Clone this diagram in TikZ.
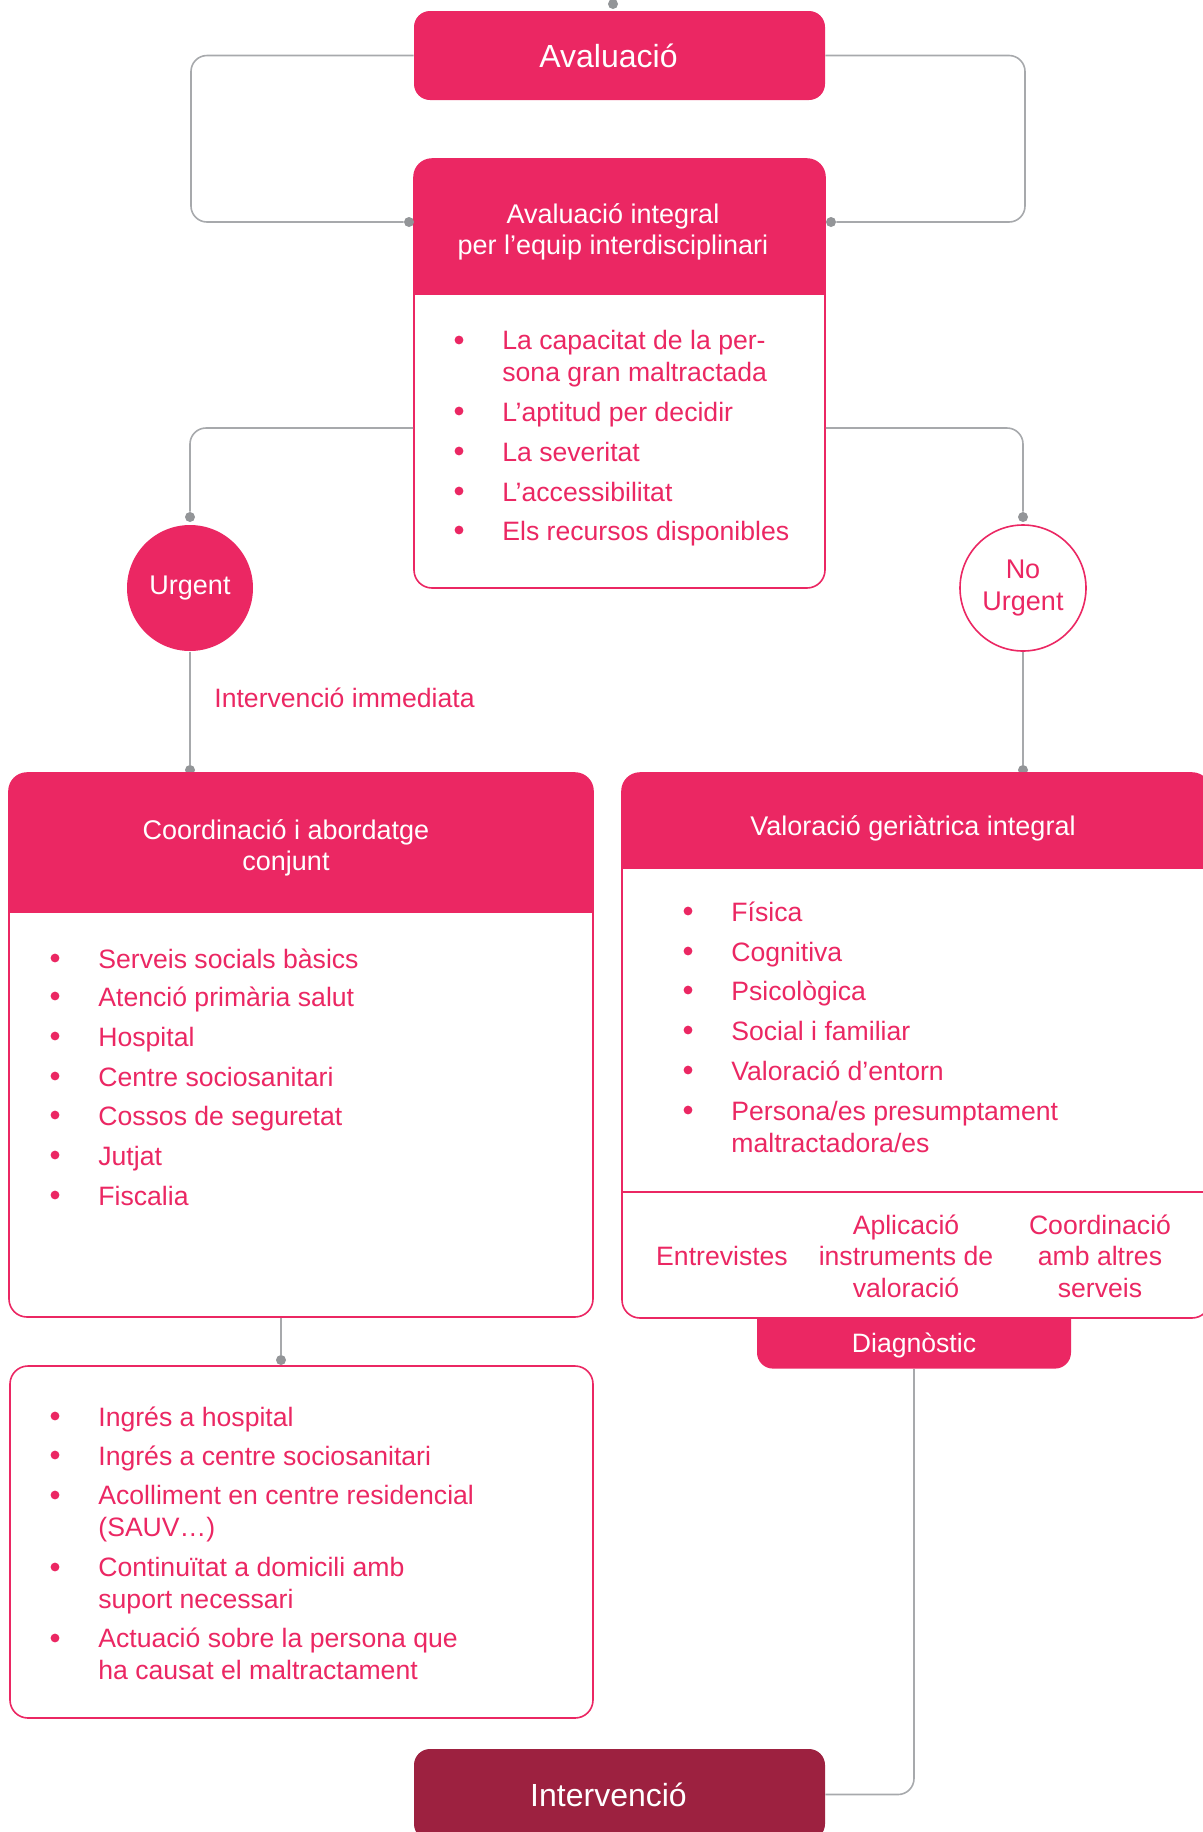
\documentclass[tikz,border=0pt]{standalone}
\usepackage{fontspec}
\setmainfont{Liberation Sans}

\definecolor{rosa}{HTML}{EB2763}
\definecolor{granat}{HTML}{9D2140}
\definecolor{linia}{HTML}{A7A9AC}
\definecolor{punt}{HTML}{939598}

\begin{document}
\begin{tikzpicture}[x=0.5pt, y=-0.5pt,
	link/.style={draw=linia, line width=0.8pt, rounded corners=8pt},
	dot/.style={circle, fill=punt, inner sep=0pt, minimum size=5pt},
	bigbox/.style={rounded corners=8pt, inner sep=0pt, text=white,
		font=\fontsize{16pt}{19pt}\selectfont},
	panel/.style={draw=rosa, line width=0.8pt, fill=white, rounded corners=9pt, inner sep=0pt,
		path picture={\fill[rosa, sharp corners] (path picture bounding box.north west)
			rectangle ([yshift=-#1]path picture bounding box.north east);}},
	head/.style={text=white, align=center, inner sep=0pt, yshift=-1.5pt,
		font=\fontsize{13.5pt}{15.75pt}\selectfont},
	body/.style={text=rosa, inner sep=0pt, font=\fontsize{13.3pt}{15.75pt}\selectfont},
	item/.style={body, align=left, anchor=base west, yshift=-1pt},
	bul/.style={circle, fill=rosa, inner sep=0pt, minimum size=4.4pt},
	roda/.style={circle, minimum size=63pt, inner sep=0pt, line width=0.8pt,
		font=\fontsize{13.5pt}{15.75pt}\selectfont}]

	\useasboundingbox (0,0) rectangle (1203,1832);
	\clip (0,0) rectangle (1203,1832);

	%% The first step
	\node[bigbox, fill=rosa, minimum width=205.5pt, minimum height=44.5pt] (avaluacio) at (619.5,55.5) {\hspace*{-11pt}Avaluació};
	\coordinate (entrada) at (613,-30);
	\node[dot] (d0) at (613,4) {};
	\draw[link] (entrada) -- (d0);

	%% The integral assessment
	%% (a text of two lines sits on the baseline of its last line)
	\node[panel=68pt, minimum width=205.5pt, minimum height=214.5pt] (integral) at (619.5,373.5) {};
	\node[head] (t-integral) at (613,229) {Avaluació integral\\per l’equip interdisciplinari};
	\node[bul] (b-int1) at (459,340) {};
	\node[item] (i-int1) at (502,379) {La capacitat de la per-\\sona gran maltractada};
	\node[bul] (b-int2) at (459,411) {};
	\node[item] (i-int2) at (502,419) {L’aptitud per decidir};
	\node[bul] (b-int3) at (459,451) {};
	\node[item] (i-int3) at (502,459) {La severitat};
	\node[bul] (b-int4) at (459,491) {};
	\node[item] (i-int4) at (502,499) {L’accessibilitat};
	\node[bul] (b-int5) at (459,530) {};
	\node[item] (i-int5) at (502,538) {Els recursos disponibles};

	%% Loop back to the first step
	\node[dot] (d1) at (409,222) {};
	\node[dot] (d2) at (831,222) {};
	\draw[link] (avaluacio.west) -| (191,222) -- (d1);
	\draw[link] (avaluacio.east) -| (1025,222) -- (d2);

	%% Urgent / not urgent
	\node[roda, fill=rosa, text=white] (urgent) at (190,588) {Urgent};
	\node[roda, fill=white, draw=rosa, text=rosa, align=center] (nourgent) at (1023,588) {No\\Urgent};
	\node[dot] (d3) at (190,517) {};
	\node[dot] (d4) at (1023,517) {};
	\draw[link] (integral.west |- 0,428) -| (d3);
	\draw[link] (integral.east |- 0,428) -| (d4);
	\node[dot] (d5) at (190,770) {};
	\node[dot] (d6) at (1023,770) {};
	\draw[link] (urgent) -- (d5);
	\draw[link] (nourgent) -- (d6);
	\node[item] (immediata) at (214,705) {Intervenció immediata};

	%% Coordination
	\node[panel=70pt, minimum width=292pt, minimum height=272pt] (coordinacio) at (301,1045) {};
	\node[head] (t-coord) at (286,845) {Coordinació i abordatge\\conjunt};
	\node[bul] (b-co1) at (55,958) {};
	\node[item] (i-co1) at (98,966) {Serveis socials bàsics};
	\node[bul] (b-co2) at (55,996) {};
	\node[item] (i-co2) at (98,1004) {Atenció primària salut};
	\node[bul] (b-co3) at (55,1036) {};
	\node[item] (i-co3) at (98,1044) {Hospital};
	\node[bul] (b-co4) at (55,1076) {};
	\node[item] (i-co4) at (98,1084) {Centre sociosanitari};
	\node[bul] (b-co5) at (55,1115) {};
	\node[item] (i-co5) at (98,1123) {Cossos de seguretat};
	\node[bul] (b-co6) at (55,1155) {};
	\node[item] (i-co6) at (98,1163) {Jutjat};
	\node[bul] (b-co7) at (55,1195) {};
	\node[item] (i-co7) at (98,1203) {Fiscalia};

	%% Measures
	\node[panel=0pt, minimum width=291.5pt, minimum height=176pt] (mesures) at (301.5,1542) {};
	\node[dot] (d7) at (281,1360) {};
	\draw[link] (coordinacio.south -| d7) -- (d7);
	\node[bul] (b-me1) at (55,1416) {};
	\node[item] (i-me1) at (98,1424) {Ingrés a hospital};
	\node[bul] (b-me2) at (55,1455) {};
	\node[item] (i-me2) at (98,1463) {Ingrés a centre sociosanitari};
	\node[bul] (b-me3) at (55,1495) {};
	\node[item] (i-me3) at (98,1534) {Acolliment en centre residencial\\(SAUV…)};
	\node[bul] (b-me4) at (55,1567) {};
	\node[item] (i-me4) at (98,1606) {Continuïtat a domicili amb\\suport necessari};
	\node[bul] (b-me5) at (55,1638) {};
	\node[item] (i-me5) at (98,1677) {Actuació sobre la persona que\\ha causat el maltractament};

	%% Geriatric assessment (the tab goes first, under the panel)
	\node[bigbox, fill=rosa, minimum width=157pt, text height=32pt, text depth=8pt, anchor=south,
		font=\fontsize{13.3pt}{15.75pt}\selectfont] (diagnostic) at (914,1369) {Diagnòstic};
	\node[panel=48pt, minimum width=294pt, minimum height=272.5pt] (valoracio) at (916,1045.5) {};
	\draw[rosa, line width=0.8pt] (valoracio.west |- 0,1192) -- (valoracio.east |- 0,1192);
	\node[head] (t-valor) at (913,825) {Valoració geriàtrica integral};
	\node[bul] (b-va1) at (688,911) {};
	\node[item] (i-va1) at (731,919) {Física};
	\node[bul] (b-va2) at (688,951) {};
	\node[item] (i-va2) at (731,959) {Cognitiva};
	\node[bul] (b-va3) at (688,990) {};
	\node[item] (i-va3) at (731,998) {Psicològica};
	\node[bul] (b-va4) at (688,1030) {};
	\node[item] (i-va4) at (731,1038) {Social i familiar};
	\node[bul] (b-va5) at (688,1070) {};
	\node[item] (i-va5) at (731,1078) {Valoració d’entorn};
	\node[bul] (b-va6) at (688,1110) {};
	\node[item] (i-va6) at (731,1150) {Persona/es presumptament\\maltractadora/es};
	\node[body] (entrevistes) at (722,1256) {Entrevistes};
	\node[body, align=center] (instruments) at (906,1256) {Aplicació\\instruments de\\valoració};
	\node[body, align=center] (serveis) at (1100,1256) {Coordinació\\amb altres\\serveis};

	%% The last step
	\node[bigbox, fill=granat, minimum width=205.5pt, minimum height=45.5pt] (intervencio) at (619.5,1794.5) {\hspace*{-11pt}Intervenció};
	\draw[link] (diagnostic.south) |- (intervencio.east);

\end{tikzpicture}
\end{document}
